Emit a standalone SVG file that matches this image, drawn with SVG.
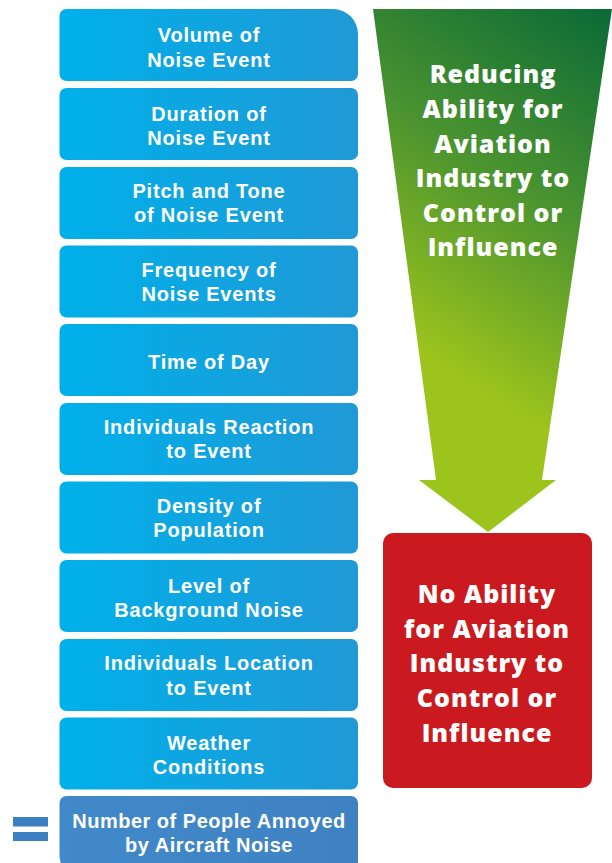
<svg xmlns="http://www.w3.org/2000/svg" width="612" height="863" viewBox="0 0 612 863">
<defs>
<linearGradient id="gBlue" x1="0" y1="0" x2="1" y2="0">
<stop offset="0" stop-color="#00b0ea"/>
<stop offset="1" stop-color="#2099d6"/>
</linearGradient>
<linearGradient id="gDark" x1="0" y1="0" x2="1" y2="0">
<stop offset="0" stop-color="#4189c9"/>
<stop offset="1" stop-color="#3f82c4"/>
</linearGradient>
<linearGradient id="gGreen" gradientUnits="userSpaceOnUse" x1="610" y1="10" x2="400" y2="340">
<stop offset="0" stop-color="#0a6a36"/>
<stop offset="0.5" stop-color="#4a9330"/>
<stop offset="1" stop-color="#9dc41c"/>
</linearGradient>
<style>
.box{fill:url(#gBlue);}
.t{font-weight:700;fill:#ffffff;text-anchor:middle;}
.s{font-family:"Liberation Sans",Arial,sans-serif;font-size:20px;letter-spacing:0.8px;}
.b{font-family:"Open Sans","Liberation Sans",sans-serif;font-weight:800;font-size:25px;letter-spacing:1px;}
</style>
</defs>
<rect width="612" height="863" fill="#ffffff"/>

<g id="n1"><path class="box" d="M66.5,9 H333 A25,25 0 0 1 358,34 V74 A7,7 0 0 1 351,81 H66.5 A7,7 0 0 1 59.5,74 V16 A7,7 0 0 1 66.5,9 Z"/>
<text class="t s" x="209" y="41.5">Volume of</text><text class="t s" x="209" y="66.5">Noise Event</text></g>

<g id="n2"><rect class="box" x="59.5" y="88" width="298.5" height="72" rx="7"/>
<text class="t s" x="209" y="121">Duration of</text><text class="t s" x="209" y="145">Noise Event</text></g>

<g id="n3"><rect class="box" x="59.5" y="167" width="298.5" height="72" rx="7"/>
<text class="t s" x="209" y="198">Pitch and Tone</text><text class="t s" x="209" y="222">of Noise Event</text></g>

<g id="n4"><rect class="box" x="59.5" y="245.5" width="298.5" height="72" rx="7"/>
<text class="t s" x="209" y="277">Frequency of</text><text class="t s" x="209" y="301">Noise Events</text></g>

<g id="n5"><rect class="box" x="59.5" y="324" width="298.5" height="72" rx="7"/>
<text class="t s" x="209" y="368.5">Time of Day</text></g>

<g id="n6"><rect class="box" x="59.5" y="403" width="298.5" height="72" rx="7"/>
<text class="t s" x="209" y="434">Individuals Reaction</text><text class="t s" x="209" y="458">to Event</text></g>

<g id="n7"><rect class="box" x="59.5" y="481.5" width="298.5" height="72" rx="7"/>
<text class="t s" x="209" y="513">Density of</text><text class="t s" x="209" y="537">Population</text></g>

<g id="n8"><rect class="box" x="59.5" y="560" width="298.5" height="72" rx="7"/>
<text class="t s" x="209" y="593">Level of</text><text class="t s" x="209" y="616.5">Background Noise</text></g>

<g id="n9"><rect class="box" x="59.5" y="639" width="298.5" height="72" rx="7"/>
<text class="t s" x="209" y="670">Individuals Location</text><text class="t s" x="209" y="695">to Event</text></g>

<g id="n10"><rect class="box" x="59.5" y="717.5" width="298.5" height="72" rx="7"/>
<text class="t s" x="209" y="750">Weather</text><text class="t s" x="209" y="773.5">Conditions</text></g>

<g id="n11"><path fill="url(#gDark)" d="M66.5,796 H351 A7,7 0 0 1 358,803 V880 H84.5 A25,25 0 0 1 59.5,855 V803 A7,7 0 0 1 66.5,796 Z"/>
<text class="t s" x="209" y="828" style="letter-spacing:0.5px">Number of People Annoyed</text><text class="t s" x="209" y="852" style="letter-spacing:0.5px">by Aircraft Noise</text></g>

<g id="equals" fill="#3c7fc2"><rect x="13" y="817" width="35" height="9.5"/><rect x="13" y="832" width="35" height="9"/></g>

<g id="arrow"><polygon fill="url(#gGreen)" points="373,9 612,9 542,480 556,480 488,532 419,480 436,480"/>
<text class="t b" x="493" y="83">Reducing</text>
<text class="t b" x="493" y="118">Ability for</text>
<text class="t b" x="493" y="152.5">Aviation</text>
<text class="t b" x="493" y="187">Industry to</text>
<text class="t b" x="493" y="221.5">Control or</text>
<text class="t b" x="493" y="256">Influence</text></g>

<g id="red"><rect x="383" y="533" width="209" height="255" rx="10" fill="#cb1a1f"/>
<text class="t b" x="487" y="603">No Ability</text>
<text class="t b" x="487" y="638">for Aviation</text>
<text class="t b" x="487" y="672">Industry to</text>
<text class="t b" x="487" y="707">Control or</text>
<text class="t b" x="487" y="742">Influence</text></g>

<g id="connectors"></g>
</svg>
